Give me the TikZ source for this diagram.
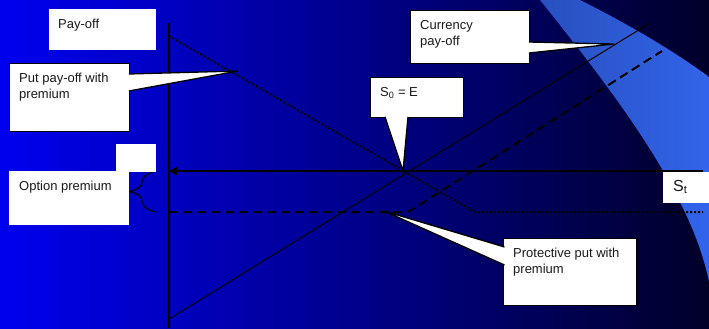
\documentclass[tikz,border=0pt]{standalone}
\usepackage{fontspec}
\setmainfont{Liberation Sans}
\usetikzlibrary{calc,decorations.pathreplacing,arrows.meta}
\definecolor{slideblue}{RGB}{0,0,240}
\definecolor{slidemid}{RGB}{0,0,170}
\definecolor{slidedark}{RGB}{0,0,40}
\definecolor{bandlight}{RGB}{50,100,235}
\definecolor{banddim}{RGB}{40,80,190}
\definecolor{labelgray}{RGB}{25,25,25}
\begin{document}
\begin{tikzpicture}[x=1bp, y=-1bp]
    % Define basic node styles
    \tikzset{
        plainbox/.style={
            rectangle,
            fill=white,
            inner sep=0pt,
            anchor=north west
        },
        callbox/.style={
            rectangle,
            draw=black,
            line width=1.3bp,
            fill=white,
            inner sep=0pt,
            anchor=north west
        },
        pointer/.style={
            fill=white,
            draw=black,
            line width=1.3bp
        },
        boxtext/.style={
            anchor=north west,
            align=left,
            inner xsep=10bp,
            inner ysep=10bp,
            text=labelgray,
            font=\fontsize{13bp}{16bp}\selectfont
        }
    }
    \useasboundingbox (0,0) rectangle (709,328);

    % Background and light band
    \shade[left color=slideblue, middle color=slidemid, right color=slidedark] (0,0) rectangle (709,328);
    \shade[left color=banddim, right color=bandlight] (540,0) .. controls (612,90) and (691,192) .. (709,282)
        -- (709,77) .. controls (670,48) and (620,20) .. (580,0) -- cycle;

    % Key points
    \coordinate (origin) at (169,171);
    \coordinate (ytop) at (169,23);
    \coordinate (ybot) at (169,328);
    \coordinate (xend) at (703,171);
    \coordinate (s0) at (403,171);
    \coordinate (curlow) at (169,319);
    \coordinate (curhigh) at (650,23);
    \coordinate (putstart) at (169,36);
    \coordinate (putkink) at (475,212);
    \coordinate (putend) at (703,212);
    \coordinate (protstart) at (169,212);
    \coordinate (protkink) at (408,212);
    \coordinate (protend) at (662,51);
    \coordinate (premtop) at (156,171);
    \coordinate (prembot) at (156,212);
    \coordinate (puttip) at (238,71);
    \coordinate (curtip) at (614,44);
    \coordinate (prottip) at (384,211);

    % Axes
    \draw[line width=2bp] (ytop) -- (ybot);
    \draw[{Triangle[length=8bp,width=8bp]}-, line width=2bp] (origin) -- (xend);

    % Pay-off lines
    \draw[line width=1bp] (curlow) -- (curhigh);
    \draw[line width=2bp, dash pattern=on 9bp off 5bp] (protstart) -- (protkink) -- (protend);
    \draw[line width=2bp, dash pattern=on 2bp off 2bp] (putstart) -- (putkink) -- (putend);

    % Premium brace
    \draw[decorate, decoration={brace, amplitude=27bp}, line width=1.2bp] (prembot) -- (premtop);

    % Plain boxes
    \node[plainbox, minimum width=107bp, minimum height=41bp] (payoff) at (49,9) {};
    \node[plainbox, minimum width=40bp, minimum height=28bp] (premtab) at (116,144) {};
    \node[plainbox, minimum width=120bp, minimum height=54bp] (premium) at (9,171) {};
    \node[plainbox, minimum width=46bp, minimum height=31bp] (st) at (663,172) {};

    % Callout boxes
    \node[callbox, minimum width=120bp, minimum height=68bp] (putpay) at (9,63) {};
    \node[callbox, minimum width=119bp, minimum height=53bp] (currency) at (410,10) {};
    \node[callbox, minimum width=93bp, minimum height=40bp] (szero) at (370,77) {};
    \node[callbox, minimum width=133bp, minimum height=67bp] (protect) at (503,238) {};

    % Callout pointers
    \filldraw[pointer] ($(putpay.north east)+(-1.5,11)$) -- (puttip) -- ($(putpay.north east)+(-1.5,28)$);
    \filldraw[pointer] ($(currency.north east)+(-1.5,32)$) -- (curtip) -- ($(currency.north east)+(-1.5,43)$);
    \filldraw[pointer] ($(szero.south west)+(15,-1.5)$) -- (s0) -- ($(szero.south west)+(38,-1.5)$);
    \filldraw[pointer] ($(protect.north west)+(1.5,9)$) -- (prottip) -- ($(protect.north west)+(1.5,27)$);

    % Box texts
    \node[boxtext, inner xsep=9bp] (payofftext) at (payoff.north west) {Pay-off};
    \node[boxtext] (premiumtext) at (premium.north west) {Option premium};
    \node[boxtext, inner ysep=8bp, font=\fontsize{16bp}{19bp}\selectfont] (sttext) at (st.north west) {S\textsubscript{t}};
    \node[boxtext] (putpaytext) at (putpay.north west) {Put pay-off with\\premium};
    \node[boxtext] (currencytext) at (currency.north west) {Currency\\pay-off};
    \node[boxtext] (szerotext) at (szero.north west) {S\textsubscript{0} = E};
    \node[boxtext] (protecttext) at (protect.north west) {Protective put with\\premium};
\end{tikzpicture}
\end{document}
